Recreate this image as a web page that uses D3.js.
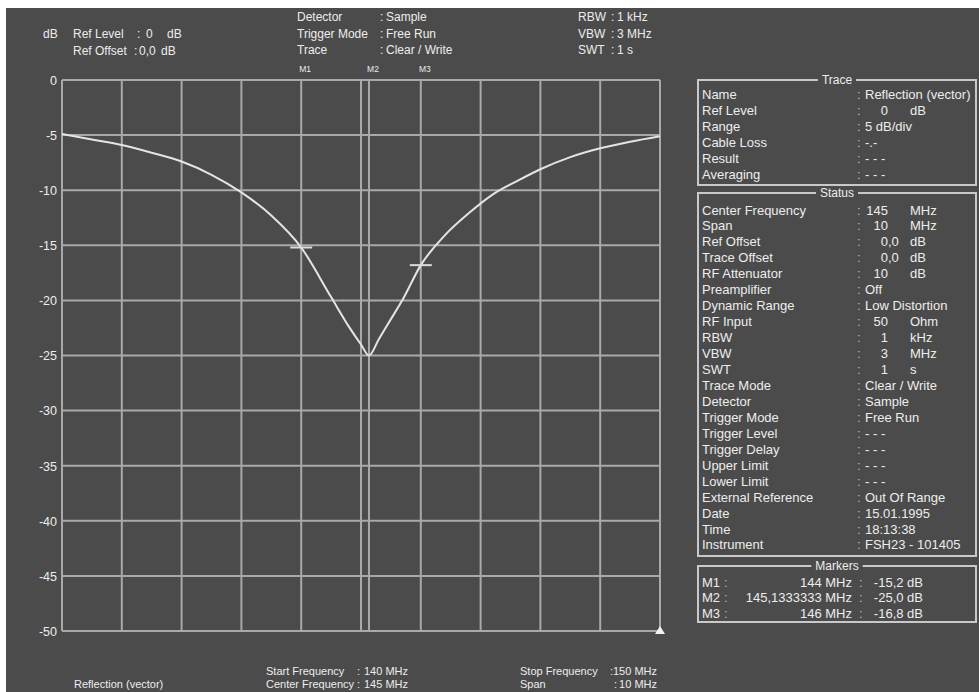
<!DOCTYPE html>
<html>
<head>
<meta charset="utf-8">
<script src="https://cdn.jsdelivr.net/npm/d3@7"></script>
<style>
  html, body { margin: 0; padding: 0; background: #ffffff; }
  svg { display: block; }
  text { font-family: "Liberation Sans", Arial, sans-serif; fill: #ededed; }
</style>
</head>
<body>
<svg id="chart" width="979" height="692"></svg>
<script>
// ---- Trace data: reflection (vector) sweep, 140–150 MHz ----
const freqMHz  = [140, 140.5, 141, 141.5, 142, 142.5, 143, 143.5, 144, 144.5, 144.8, 145, 145.1333333,
                  145.3, 145.5, 145.7, 146, 146.4, 146.8, 147.2, 147.6, 148, 148.5, 149, 149.5, 150];
const levelDb  = [-4.9, -5.4, -5.9, -6.6, -7.4, -8.6, -10.2, -12.3, -15.2, -19.7, -22.4, -24.0, -25.0,
                  -23.5, -21.7, -19.9, -16.8, -14.1, -12.1, -10.4, -9.2, -8.1, -7.0, -6.2, -5.6, -5.1];

// Axis ticks
const freqTicks = [140, 141, 142, 143, 144, 145, 146, 147, 148, 149, 150];
const dbTicks   = [0, -5, -10, -15, -20, -25, -30, -35, -40, -45, -50];

// Markers
const markerNames  = ["M1", "M2", "M3"];
const markerFreq   = [144, 145.1333333, 146];
const markerLevel  = [-15.2, -25.0, -16.8];
const markerFreqText  = ["144 MHz", "145,1333333 MHz", "146 MHz"];
const markerLevelText = ["-15,2 dB", "-25,0 dB", "-16,8 dB"];
const activeMarker = 1;

// Header / footer settings
const headLeftLabels  = ["Ref Level", "Ref Offset"];
const headLeftValues  = ["0", "0,0"];
const headMidLabels   = ["Detector", "Trigger Mode", "Trace"];
const headMidValues   = ["Sample", "Free Run", "Clear / Write"];
const headRightLabels = ["RBW", "VBW", "SWT"];
const headRightValues = ["1 kHz", "3 MHz", "1 s"];
const footLabels      = ["Start Frequency", "Center Frequency", "Stop Frequency", "Span"];
const footValues      = ["140 MHz", "145 MHz", "150 MHz", "10 MHz"];
const traceName       = "Reflection (vector)";

// Side panel: Trace box
const traceLabels = ["Name", "Ref Level", "Range", "Cable Loss", "Result", "Averaging"];
const traceValues = ["Reflection (vector)", "0", "5 dB/div", "-.-", "- - -", "- - -"];
const traceUnits  = ["", "dB", "", "", "", ""];

// Side panel: Status box
const statusLabels = ["Center Frequency", "Span", "Ref Offset", "Trace Offset", "RF Attenuator", "Preamplifier",
  "Dynamic Range", "RF Input", "RBW", "VBW", "SWT", "Trace Mode", "Detector", "Trigger Mode", "Trigger Level",
  "Trigger Delay", "Upper Limit", "Lower Limit", "External Reference", "Date", "Time", "Instrument"];
const statusValues = ["145", "10", "0,0", "0,0", "10", "Off", "Low Distortion", "50", "1", "3", "1",
  "Clear / Write", "Sample", "Free Run", "- - -", "- - -", "- - -", "- - -", "Out Of Range", "15.01.1995",
  "18:13:38", "FSH23 - 101405"];
const statusUnits  = ["MHz", "MHz", "dB", "dB", "dB", "", "", "Ohm", "kHz", "MHz", "s",
  "", "", "", "", "", "", "", "", "", "", ""];

// ---- Drawing ----
const BG = "#4b4b4b", GRID = "#a9a9a9";
const svg = d3.select("#chart");

svg.append("rect").attr("x", 6).attr("y", 8).attr("width", 973).attr("height", 684).attr("fill", BG);

const x = d3.scaleLinear().domain([140, 150]).range([62, 660]);
const y = d3.scaleLinear().domain([0, -50]).range([80, 631]);

// grid
const grid = svg.append("g").attr("stroke", GRID).attr("stroke-width", 2).attr("fill", "none");
grid.selectAll("line.h").data(dbTicks).join("line")
  .attr("x1", x(140)).attr("x2", x(150)).attr("y1", d => y(d)).attr("y2", d => y(d));
grid.selectAll("line.v").data(freqTicks).join("line")
  .attr("y1", y(0)).attr("y2", y(-50)).attr("x1", d => x(d)).attr("x2", d => x(d));

// y axis labels
const yAxis = d3.axisLeft(y).tickValues(dbTicks).tickSize(0).tickPadding(5).tickFormat(d => String(d));
const ya = svg.append("g").attr("transform", `translate(${x(140)},0)`).call(yAxis);
ya.select(".domain").remove();
ya.selectAll("text").style("font-family", '"Liberation Sans", Arial, sans-serif')
  .style("font-size", "12.5px").style("fill", "#ededed").attr("dy", "0.35em");

// marker vertical line for active marker
svg.append("line")
  .attr("x1", x(markerFreq[activeMarker])).attr("x2", x(markerFreq[activeMarker]))
  .attr("y1", y(0)).attr("y2", y(-50)).attr("stroke", GRID).attr("stroke-width", 2);

// trace
const line = d3.line().x(d => x(d[0])).y(d => y(d[1])).curve(d3.curveMonotoneX);
svg.append("path").datum(freqMHz.map((f, i) => [f, levelDb[i]]))
  .attr("d", line).attr("fill", "none").attr("stroke", "#e4e4e4").attr("stroke-width", 2);

// marker ticks on trace (inactive markers)
markerFreq.forEach((f, i) => {
  if (i === activeMarker) return;
  svg.append("line").attr("x1", x(f) - 11).attr("x2", x(f) + 11)
    .attr("y1", y(markerLevel[i])).attr("y2", y(markerLevel[i]))
    .attr("stroke", "#dcdcdc").attr("stroke-width", 2);
});

// marker labels above plot
svg.selectAll("text.mk").data(markerNames).join("text")
  .attr("x", (d, i) => x(markerFreq[i]) + 4).attr("y", 72)
  .attr("text-anchor", "middle").style("font-size", "8.5px").text(d => d);

// small reference triangle at lower right
svg.append("path")
  .attr("d", `M${x(150)},${y(-50) - 5} l5,8 l-10,0 Z`).attr("fill", "#f2f2f2");

// ---- header ----
const hdr = svg.append("g").style("font-size", "12px");
hdr.append("text").attr("x", 43).attr("y", 38).text("dB");
headLeftLabels.forEach((t, i) => {
  const by = 38 + i * 17;
  hdr.append("text").attr("x", 73).attr("y", by).text(t);
  hdr.append("text").attr("x", i === 0 ? 137 : 134).attr("y", by).text(":");
  hdr.append("text").attr("x", i === 0 ? 146 : 139).attr("y", by).text(headLeftValues[i]);
  hdr.append("text").attr("x", i === 0 ? 167 : 161).attr("y", by).text("dB");
});
headMidLabels.forEach((t, i) => {
  const by = 21 + i * 16.5;
  hdr.append("text").attr("x", 297).attr("y", by).text(t);
  hdr.append("text").attr("x", 380).attr("y", by).text(":");
  hdr.append("text").attr("x", 386).attr("y", by).text(headMidValues[i]);
});
headRightLabels.forEach((t, i) => {
  const by = 21 + i * 16.5;
  hdr.append("text").attr("x", 578).attr("y", by).text(t);
  hdr.append("text").attr("x", 611).attr("y", by).text(":");
  hdr.append("text").attr("x", 617).attr("y", by).text(headRightValues[i]);
});

// ---- footer ----
const ftr = svg.append("g").style("font-size", "11px");
ftr.append("text").attr("x", 74).attr("y", 688).text(traceName);
[[266, 675, 357, 364, "start"], [266, 688, 357, 364, "start"], [520, 675, 610, 657, "end"], [520, 688, 614, 657, "end"]]
  .forEach(([lx, by, cx, vx, anc], i) => {
    ftr.append("text").attr("x", lx).attr("y", by).text(footLabels[i]);
    ftr.append("text").attr("x", cx).attr("y", by).text(":");
    ftr.append("text").attr("x", vx).attr("y", by).attr("text-anchor", anc).text(footValues[i]);
  });

// ---- side panel ----
function box(top, bottom, title) {
  const g = svg.append("g");
  g.append("rect").attr("x", 698).attr("y", top).attr("width", 278).attr("height", bottom - top)
    .attr("fill", "none").attr("stroke", "#c9c9c9").attr("stroke-width", 2);
  const t = g.append("text").attr("x", 837).attr("y", top + 4).attr("text-anchor", "middle")
    .style("font-size", "12px").text(title);
  const w = t.node().getComputedTextLength();
  g.insert("rect", "text").attr("x", 837 - w / 2 - 4).attr("y", top - 3).attr("width", w + 8).attr("height", 6)
    .attr("fill", BG);
  return g;
}

function rows(g, labels, values, units, y0, step) {
  labels.forEach((lab, i) => {
    const by = y0 + i * step;
    g.append("text").attr("x", 702).attr("y", by).text(lab);
    g.append("text").attr("x", 857).attr("y", by).style("fill", "#bdbdbd").text(":");
    const v = values[i];
    if (units[i]) {
      const parts = v.split(",");
      g.append("text").attr("x", 888).attr("y", by).attr("text-anchor", "end").text(parts[0]);
      if (parts.length > 1) g.append("text").attr("x", 888).attr("y", by).text("," + parts[1]);
      g.append("text").attr("x", 910).attr("y", by).text(units[i]);
    } else {
      g.append("text").attr("x", 865).attr("y", by).text(v);
    }
  });
}

const tb = box(80, 185, "Trace").style("font-size", "13px");
rows(tb, traceLabels, traceValues, traceUnits, 98.5, 16);

const sb = box(193, 556, "Status").style("font-size", "13px");
rows(sb, statusLabels, statusValues, statusUnits, 214.5, 15.95);

const mb = box(566, 622, "Markers").style("font-size", "13px");
markerNames.forEach((m, i) => {
  const by = 586.5 + i * 15.6;
  mb.append("text").attr("x", 702).attr("y", by).text(m);
  mb.append("text").attr("x", 724).attr("y", by).style("fill", "#bdbdbd").text(":");
  mb.append("text").attr("x", 852).attr("y", by).attr("text-anchor", "end").text(markerFreqText[i]);
  mb.append("text").attr("x", 859).attr("y", by).style("fill", "#bdbdbd").text(":");
  mb.append("text").attr("x", 923).attr("y", by).attr("text-anchor", "end").text(markerLevelText[i]);
});
</script>
</body>
</html>
